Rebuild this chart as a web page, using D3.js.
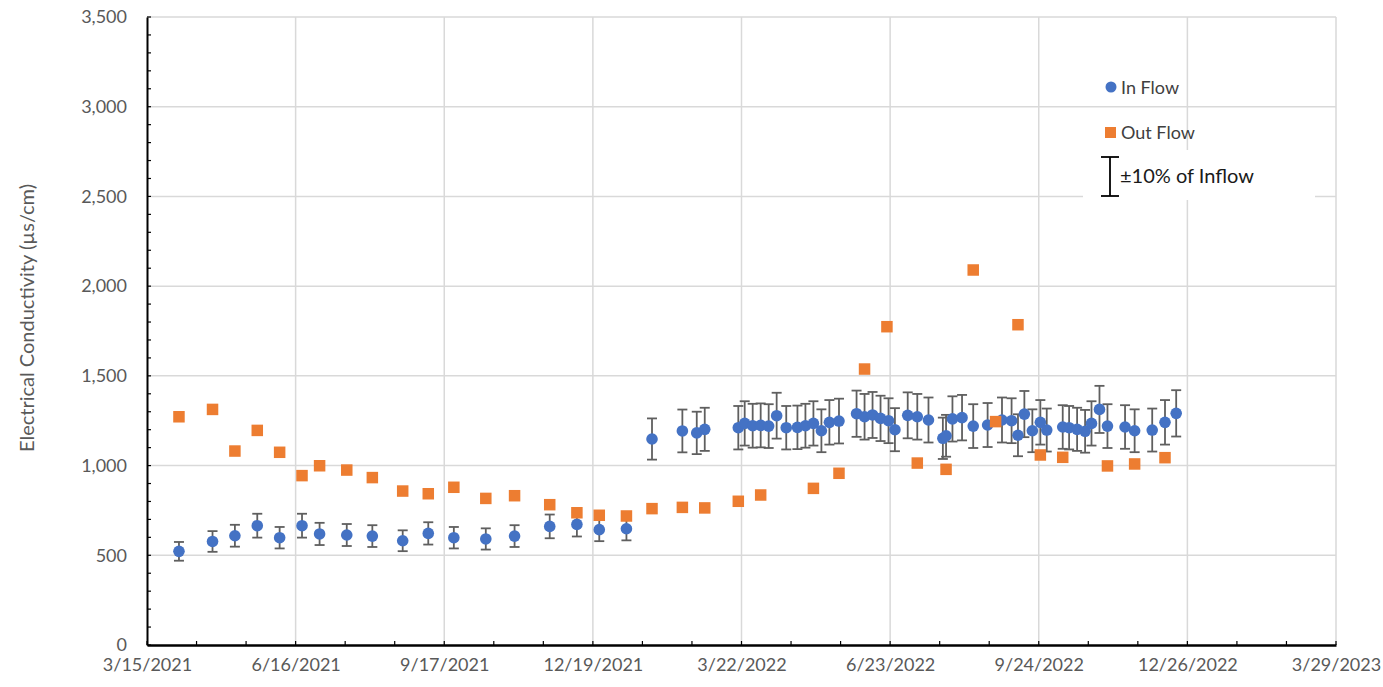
<!DOCTYPE html>
<html>
<head>
<meta charset="utf-8">
<script src="https://cdn.jsdelivr.net/npm/d3@7"></script>
<style>
  html, body { margin: 0; padding: 0; background: #fff; }
  svg { display: block; }
  text { font-family: Lato, "Open Sans", sans-serif; }
</style>
</head>
<body>
<svg id="chart" width="1383" height="687"></svg>
<script>
// ---------------- data ----------------
const inDates = [
  "2021-04-04","2021-04-25","2021-05-09","2021-05-23","2021-06-06","2021-06-20","2021-07-01","2021-07-18",
  "2021-08-03","2021-08-22","2021-09-07","2021-09-23","2021-10-13","2021-10-31","2021-11-22","2021-12-09",
  "2021-12-23","2022-01-09","2022-01-25","2022-02-13","2022-02-22","2022-02-27","2022-03-20","2022-03-24",
  "2022-03-29","2022-04-03","2022-04-08","2022-04-13","2022-04-19","2022-04-26","2022-05-01","2022-05-06",
  "2022-05-11","2022-05-16","2022-05-22","2022-06-02","2022-06-07","2022-06-12","2022-06-17","2022-06-22",
  "2022-06-26","2022-07-04","2022-07-10","2022-07-17","2022-07-26","2022-07-28","2022-08-01","2022-08-07",
  "2022-08-14","2022-08-23","2022-09-01","2022-09-07","2022-09-11","2022-09-15","2022-09-20","2022-09-25",
  "2022-09-29","2022-10-09","2022-10-13","2022-10-18","2022-10-23","2022-10-27","2022-11-01","2022-11-06",
  "2022-11-17","2022-11-23","2022-12-04","2022-12-12","2022-12-19"
];
const inValues = [
  522, 577, 609, 665, 598, 665, 619, 613,
  607, 581, 622, 598, 591, 607, 661, 672,
  643, 648, 1148, 1193, 1182, 1202, 1211, 1235,
  1222, 1224, 1220, 1278, 1211, 1213, 1222, 1235,
  1194, 1241, 1248, 1289, 1272, 1282, 1263, 1250,
  1200, 1280, 1272, 1254, 1152, 1166, 1260, 1267,
  1220, 1226, 1254, 1250, 1169, 1287, 1194, 1241,
  1198, 1215, 1211, 1202, 1191, 1235, 1313, 1220,
  1215, 1194, 1198, 1241, 1291
];
const outDates = [
  "2021-04-04","2021-04-25","2021-05-09","2021-05-23","2021-06-06","2021-06-20","2021-07-01","2021-07-18",
  "2021-08-03","2021-08-22","2021-09-07","2021-09-23","2021-10-13","2021-10-31","2021-11-22","2021-12-09",
  "2021-12-23","2022-01-09","2022-01-25","2022-02-13","2022-02-27","2022-03-20","2022-04-03","2022-05-06",
  "2022-05-22","2022-06-07","2022-06-21","2022-07-10","2022-07-28","2022-08-14","2022-08-28","2022-09-11",
  "2022-09-25","2022-10-09","2022-11-06","2022-11-23","2022-12-12"
];
const outValues = [
  1272, 1313, 1081, 1196, 1074, 944, 999, 975,
  933, 858, 843, 879, 817, 832, 782, 737,
  723, 719, 760, 767, 764, 801, 836, 873,
  957, 1538, 1774, 1014, 979, 2090, 1245, 1785,
  1059, 1046, 998, 1009, 1044
];
const xTickLabels = ["3/15/2021","6/16/2021","9/17/2021","12/19/2021","3/22/2022","6/23/2022","9/24/2022","12/26/2022","3/29/2023"];
const yTickValues = [0, 500, 1000, 1500, 2000, 2500, 3000, 3500];
const seriesNames = ["In Flow", "Out Flow"];
const errorLabel = "±10% of Inflow";
const yTitle = "Electrical Conductivity (µs/cm)";
const errorFraction = 0.10;

// ---------------- setup ----------------
const svg = d3.select("#chart");
const M = { left: 147, right: 1336, top: 17, bottom: 645 };
const parseISO = d3.utcParse("%Y-%m-%d");
const parseLbl = d3.utcParse("%m/%d/%Y");
const tickDates = xTickLabels.map(parseLbl);
const x = d3.scaleUtc().domain([tickDates[0], tickDates[tickDates.length - 1]]).range([M.left, M.right]);
const y = d3.scaleLinear().domain([0, 3500]).range([M.bottom, M.top]);

const C_IN = "#4472C4", C_OUT = "#ED7D31", C_GRID = "#d9d9d9", C_TXT = "#595959", C_ERR = "#5f5f5f";

// gridlines
const grid = svg.append("g");
grid.selectAll("line.h").data(yTickValues.slice(1)).join("line")
  .attr("x1", M.left).attr("x2", M.right)
  .attr("y1", d => y(d)).attr("y2", d => y(d))
  .attr("stroke", C_GRID).attr("stroke-width", 1.5);
grid.selectAll("line.v").data(tickDates.slice(1)).join("line")
  .attr("x1", d => x(d)).attr("x2", d => x(d))
  .attr("y1", M.top).attr("y2", M.bottom)
  .attr("stroke", C_GRID).attr("stroke-width", 1.5);

// minor ticks
const minorX = d3.range(0, 745, 31).map(d => d3.utcDay.offset(tickDates[0], d));
const minorY = d3.range(0, 3501, 100);
svg.append("g").selectAll("line").data(minorX).join("line")
  .attr("x1", d => x(d)).attr("x2", d => x(d))
  .attr("y1", M.bottom).attr("y2", M.bottom - 4)
  .attr("stroke", "#000").attr("stroke-width", 1.2);
svg.append("g").selectAll("line").data(minorY).join("line")
  .attr("x1", M.left).attr("x2", M.left + 4)
  .attr("y1", d => y(d)).attr("y2", d => y(d))
  .attr("stroke", "#000").attr("stroke-width", 1.2);

// axes
const xAxis = d3.axisBottom(x).tickValues(tickDates).tickSize(0)
  .tickFormat((d, i) => xTickLabels[i]).tickPadding(13);
const gx = svg.append("g").attr("transform", `translate(0,${M.bottom})`).call(xAxis);
gx.select(".domain").attr("stroke", "#000").attr("stroke-width", 2.5);
gx.selectAll("text").attr("fill", C_TXT).style("font-size", "18px").style("font-family", "Lato");

const yAxis = d3.axisLeft(y).tickValues(yTickValues).tickSize(0)
  .tickFormat(d3.format(",")).tickPadding(20);
const gy = svg.append("g").attr("transform", `translate(${M.left},0)`).call(yAxis);
gy.select(".domain").attr("stroke", "#000").attr("stroke-width", 2);
gy.selectAll("text").attr("fill", C_TXT).style("font-size", "18px").style("font-family", "Lato");

// y title
svg.append("text")
  .attr("transform", `translate(26,318) rotate(-90)`)
  .attr("text-anchor", "middle").attr("dominant-baseline", "central")
  .attr("fill", C_TXT).style("font-size", "20px")
  .text(yTitle);

// data
const inData = inDates.map((d, i) => ({ date: parseISO(d), v: inValues[i] }));
const outData = outDates.map((d, i) => ({ date: parseISO(d), v: outValues[i] }));

// error bars
const eb = svg.append("g").attr("stroke", C_ERR).attr("stroke-width", 1.8);
eb.selectAll("line.stem").data(inData).join("line")
  .attr("x1", d => x(d.date)).attr("x2", d => x(d.date))
  .attr("y1", d => y(d.v * (1 + errorFraction))).attr("y2", d => y(d.v * (1 - errorFraction)));
eb.selectAll("line.capT").data(inData).join("line")
  .attr("x1", d => x(d.date) - 5).attr("x2", d => x(d.date) + 5)
  .attr("y1", d => y(d.v * (1 + errorFraction))).attr("y2", d => y(d.v * (1 + errorFraction)));
eb.selectAll("line.capB").data(inData).join("line")
  .attr("x1", d => x(d.date) - 5).attr("x2", d => x(d.date) + 5)
  .attr("y1", d => y(d.v * (1 - errorFraction))).attr("y2", d => y(d.v * (1 - errorFraction)));

// inflow circles
svg.append("g").selectAll("circle").data(inData).join("circle")
  .attr("cx", d => x(d.date)).attr("cy", d => y(d.v)).attr("r", 5.8)
  .attr("fill", C_IN);

// outflow squares
const S = 11.5;
svg.append("g").selectAll("rect").data(outData).join("rect")
  .attr("x", d => x(d.date) - S / 2).attr("y", d => y(d.v) - S / 2)
  .attr("width", S).attr("height", S).attr("fill", C_OUT);

// legend
const lg = svg.append("g");
lg.append("rect").attr("x", 1083).attr("y", 150).attr("width", 232).attr("height", 50).attr("fill", "#fff");
lg.append("circle").attr("cx", 1111).attr("cy", 87).attr("r", 5.5).attr("fill", C_IN);
lg.append("text").attr("x", 1121).attr("y", 87).attr("dominant-baseline", "central")
  .style("font-size", "18px").attr("fill", "#404040").text(seriesNames[0]);
lg.append("rect").attr("x", 1105).attr("y", 127).attr("width", 11).attr("height", 11).attr("fill", C_OUT);
lg.append("text").attr("x", 1121).attr("y", 132).attr("dominant-baseline", "central")
  .style("font-size", "18px").attr("fill", "#404040").text(seriesNames[1]);
const eg = lg.append("g").attr("stroke", "#000").attr("stroke-width", 1.8);
eg.append("line").attr("x1", 1110).attr("x2", 1110).attr("y1", 157).attr("y2", 196);
eg.append("line").attr("x1", 1101).attr("x2", 1119).attr("y1", 157).attr("y2", 157);
eg.append("line").attr("x1", 1101).attr("x2", 1119).attr("y1", 196).attr("y2", 196);
lg.append("text").attr("x", 1120).attr("y", 175).attr("dominant-baseline", "central")
  .style("font-size", "20px").style("font-weight", "400").attr("fill", "#1a1a1a").text(errorLabel);
</script>
</body>
</html>
